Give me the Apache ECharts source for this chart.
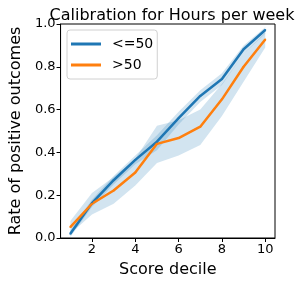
<!DOCTYPE html>
<html><head><meta charset="utf-8">
<script src="https://cdn.jsdelivr.net/npm/echarts@6/dist/echarts.min.js"></script>
<style>html,body{margin:0;padding:0;background:#fff}#c{width:299px;height:284px}</style>
</head><body><div id="c"></div>
<script>
var deciles = [1,2,3,4,5,6,7,8,9,10];
var blueVals = [0.02,0.163,0.27,0.365,0.45,0.56,0.664,0.743,0.882,0.972];
var orangeVals = [0.051,0.16,0.222,0.306,0.44,0.467,0.52,0.648,0.80,0.928];
var blueLow = [0.005,0.145,0.25,0.345,0.41,0.53,0.635,0.715,0.86,0.955];
var blueHigh = [0.035,0.18,0.29,0.385,0.48,0.59,0.69,0.77,0.90,0.985];
var orangeLow = [0.02,0.11,0.16,0.245,0.35,0.385,0.435,0.57,0.73,0.89];
var orangeHigh = [0.08,0.21,0.285,0.37,0.525,0.55,0.6,0.72,0.86,0.96];
var xTicks = [2,4,6,8,10];
var seriesNames = ['<=50','>50'];

function pairs(xs, ys){ return xs.map(function(x,i){return [x, ys[i]];}); }
function band(low, high, name){
  return {
    type:'custom', name: name, silent:true, z:1,
    data:[[deciles[0], low[0]]],
    renderItem:function(params, api){
      var pts=[];
      for(var i=0;i<deciles.length;i++) pts.push(api.coord([deciles[i], high[i]]));
      for(var j=deciles.length-1;j>=0;j--) pts.push(api.coord([deciles[j], low[j]]));
      return {type:'polygon', shape:{points:pts}, style:{fill:'rgba(31,119,180,0.2)'}};
    }
  };
}
var font = 'DejaVu Sans';
var chart = echarts.init(document.getElementById('c'), null, {renderer:'canvas'});
chart.setOption({
  animation:false,
  title:{text:'Calibration for Hours per week', left:167, textAlign:'center', top:3,
    textStyle:{fontFamily:font, fontSize:16, fontWeight:'normal', color:'#000'}},
  grid:{left:59, right:24, top:24, bottom:46, show:true, borderColor:'#000', borderWidth:1, backgroundColor:'transparent'},
  legend:{
    data:seriesNames, orient:'vertical', left:67, top:30,
    itemWidth:30, itemHeight:3, itemGap:7,
    padding:[7,4,7,4], borderColor:'#d0d0d0', borderWidth:1, borderRadius:3,
    backgroundColor:'rgba(255,255,255,0.8)',
    textStyle:{fontFamily:font, fontSize:14, color:'#000', padding:[0,0,0,6]},
    icon:'rect'
  },
  xAxis:{
    type:'value', min:0.55, max:10.45,
    name:'Score decile', nameLocation:'middle', nameGap:24,
    nameTextStyle:{fontFamily:font, fontSize:16, color:'#000'},
    axisLine:{show:true, onZero:false, lineStyle:{color:'#000', width:1}},
    axisTick:{show:true, length:4, customValues:xTicks, lineStyle:{color:'#000'}},
    axisLabel:{customValues:xTicks, fontFamily:font, fontSize:13, color:'#000', margin:5},
    splitLine:{show:false}
  },
  yAxis:{
    type:'value', min:0, max:1, interval:0.2,
    name:'Rate of positive outcomes', nameLocation:'middle', nameGap:33,
    nameTextStyle:{fontFamily:font, fontSize:16, color:'#000'},
    axisLine:{show:true, onZero:false, lineStyle:{color:'#000', width:1}},
    axisTick:{show:true, length:4, lineStyle:{color:'#000'}},
    axisLabel:{fontFamily:font, fontSize:13, color:'#000', margin:5,
      formatter:function(v){return v.toFixed(1);}},
    splitLine:{show:false}
  },
  series:[
    band(blueLow, blueHigh, 'bandA'),
    band(orangeLow, orangeHigh, 'bandB'),
    {type:'line', name:seriesNames[0], data:pairs(deciles, blueVals), z:3,
      symbol:'circle', symbolSize:2, showSymbol:true,
      lineStyle:{color:'#1f77b4', width:2.5}, itemStyle:{color:'#1f77b4'}},
    {type:'line', name:seriesNames[1], data:pairs(deciles, orangeVals), z:3,
      symbol:'circle', symbolSize:2, showSymbol:true,
      lineStyle:{color:'#ff7f0e', width:2.5}, itemStyle:{color:'#ff7f0e'}}
  ]
});
</script></body></html>
